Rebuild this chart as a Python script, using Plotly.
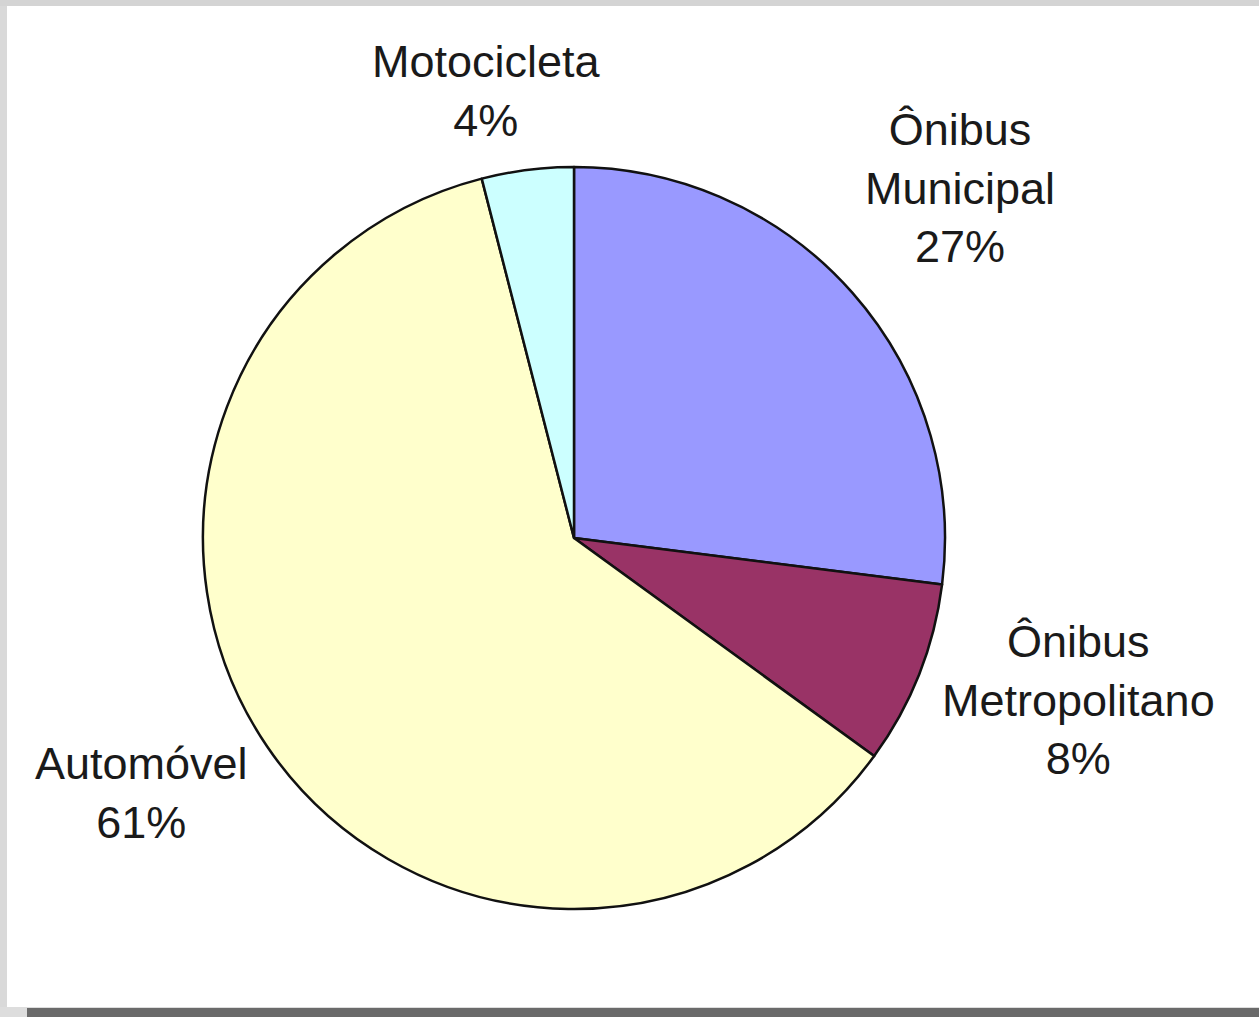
import plotly.graph_objects as go

labels = ["Ônibus Municipal", "Ônibus Metropolitano", "Automóvel", "Motocicleta"]
label_lines = [["Ônibus", "Municipal"], ["Ônibus", "Metropolitano"], ["Automóvel"], ["Motocicleta"]]
values = [27, 8, 61, 4]
colors = ["#9999FF", "#993366", "#FFFFCC", "#CCFFFF"]

W, H = 1259, 1017
cx, cy, r = 574, 538, 371

fig = go.Figure(go.Pie(
    labels=labels,
    values=values,
    sort=False,
    direction="clockwise",
    rotation=0,
    marker=dict(colors=colors, line=dict(color="#111111", width=2.5)),
    textinfo="none",
    hoverinfo="label+percent",
    showlegend=False,
    domain=dict(x=[(cx - r) / W, (cx + r) / W], y=[1 - (cy + r) / H, 1 - (cy - r) / H]),
))

# label positions (pixel centres of the text blocks)
label_pos = [(960, 188), (1078, 700), (141, 793), (486, 91)]
total = sum(values)
for lines, v, (px, py) in zip(label_lines, values, label_pos):
    txt = "<br>".join(lines + [f"{round(100 * v / total)}%"])
    fig.add_annotation(
        x=px / W, y=1 - py / H, xref="paper", yref="paper",
        text=txt, showarrow=False, xanchor="center", yanchor="middle",
        font=dict(family="Liberation Sans, Arial, sans-serif", size=45, color="#1a1a1a"),
        align="center",
    )

# frame decorations
fig.add_shape(type="rect", xref="paper", yref="paper", x0=0, x1=7 / W, y0=0, y1=1,
              fillcolor="#d9d9d9", line_width=0, layer="below")
fig.add_shape(type="rect", xref="paper", yref="paper", x0=0, x1=1, y0=1 - 6 / H, y1=1,
              fillcolor="#d4d4d4", line_width=0, layer="below")
fig.add_shape(type="rect", xref="paper", yref="paper", x0=0, x1=1, y0=0, y1=1 - 1007 / H,
              fillcolor="#dddddd", line_width=0, layer="below")
fig.add_shape(type="rect", xref="paper", yref="paper", x0=27 / W, x1=1, y0=0, y1=1 - 1008 / H,
              fillcolor="#6a6a6a", line_width=0, layer="below")

fig.update_layout(
    width=W, height=H,
    margin=dict(l=0, r=0, t=0, b=0),
    paper_bgcolor="white",
    plot_bgcolor="white",
)

fig.write_html("out.html")
